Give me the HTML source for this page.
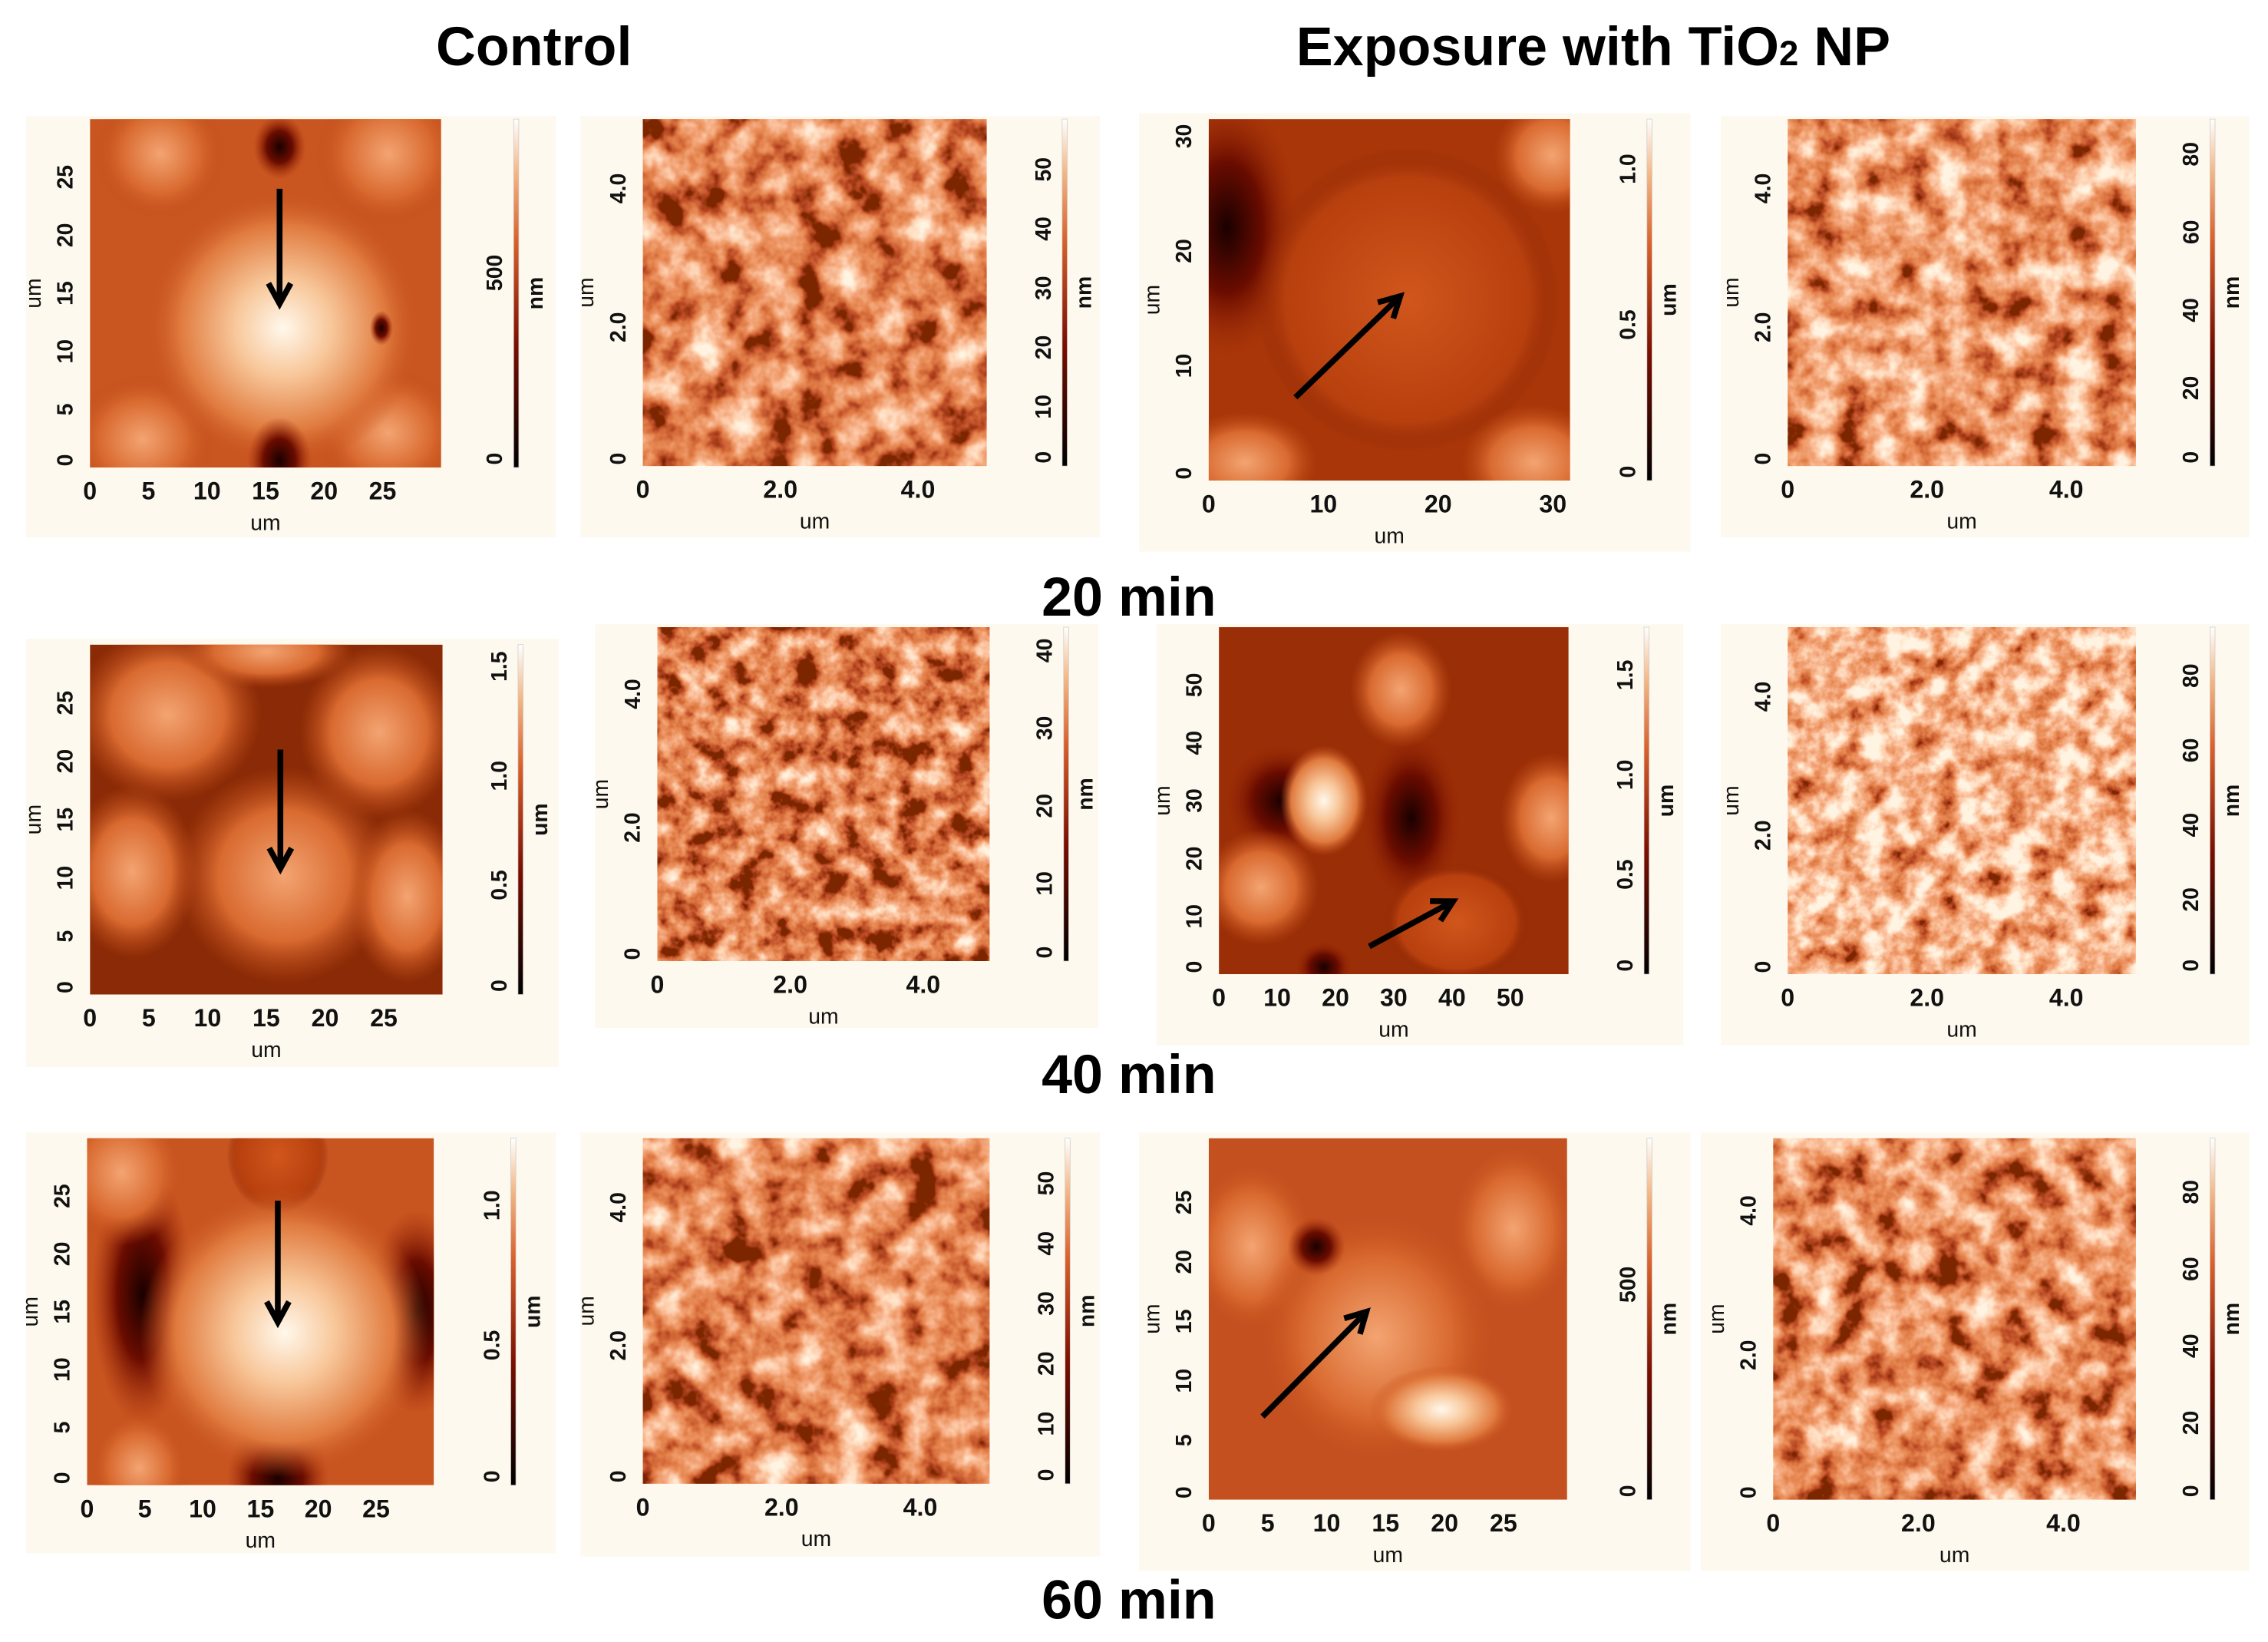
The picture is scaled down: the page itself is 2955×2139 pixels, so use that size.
<!DOCTYPE html>
<html><head><meta charset="utf-8">
<style>
html,body{margin:0;padding:0;background:#fff;}
svg{display:block;}
text{font-family:"Liberation Sans",sans-serif;font-weight:bold;fill:#111;}
.title{font-family:"Liberation Sans Narrow","Liberation Sans",sans-serif;font-size:38px;fill:#000;}
.tick{font-size:15px;}
.xtick{font-family:"Liberation Sans Narrow","Liberation Sans",sans-serif;font-size:17px;}
.lab{font-family:"Liberation Sans Narrow","Liberation Sans",sans-serif;font-size:15px;font-weight:normal;}
</style></head>
<body>
<svg id="fig" width="2955" height="2139" viewBox="0 0 1563 1131" preserveAspectRatio="none" xmlns="http://www.w3.org/2000/svg">
<defs>
<linearGradient id="cbgrad" x1="0" y1="1" x2="0" y2="0">
<stop offset="0" stop-color="#000"/><stop offset="0.35" stop-color="#7a0e00"/><stop offset="0.65" stop-color="#d8602a"/><stop offset="0.85" stop-color="#f4b888"/><stop offset="1" stop-color="#fff"/>
</linearGradient>
<radialGradient id="cellBright"><stop offset="0" stop-color="#fff8ec"/><stop offset="0.35" stop-color="#f8c79a"/><stop offset="0.75" stop-color="#e07a3e"/><stop offset="1" stop-color="#c8541e" stop-opacity="0"/></radialGradient>
<radialGradient id="cellMid"><stop offset="0" stop-color="#f3a472"/><stop offset="0.6" stop-color="#d96a30"/><stop offset="1" stop-color="#c04c18" stop-opacity="0"/></radialGradient>
<radialGradient id="cellDark"><stop offset="0" stop-color="#1a0000"/><stop offset="0.5" stop-color="#6a0c00"/><stop offset="1" stop-color="#a02c08" stop-opacity="0"/></radialGradient>
<radialGradient id="cellRed"><stop offset="0" stop-color="#d0561c"/><stop offset="0.8" stop-color="#b8400e"/><stop offset="1" stop-color="#8a2404" stop-opacity="0"/></radialGradient>
</defs>
<g id="bgs"></g>
<g id="panels"></g>
<text class="title" x="368" y="45" text-anchor="middle">Control</text>
<text class="title" x="1098" y="45" text-anchor="middle">Exposure with TiO<tspan font-size="24">2</tspan> NP</text>
<text class="title" x="778" y="424" text-anchor="middle">20 min</text>
<text class="title" x="778" y="753" text-anchor="middle">40 min</text>
<text class="title" x="778" y="1115" text-anchor="middle">60 min</text>
</svg>
<script>
// tick labels / ranges per panel (row-major: r1p1..r1p4, r2p1.., r3p1..)
const xTicks = [[0,5,10,15,20,25],[0,2.0,4.0],[0,10,20,30],[0,2.0,4.0],
                [0,5,10,15,20,25],[0,2.0,4.0],[0,10,20,30,40,50],[0,2.0,4.0],
                [0,5,10,15,20,25],[0,2.0,4.0],[0,5,10,15,20,25],[0,2.0,4.0]];
const axisMax = [30,5,31.5,5, 30,5,60,5, 30,5,30.4,5];
const cbTicks = [[0,500],[0,10,20,30,40,50],[0,0.5,1.0],[0,20,40,60,80],
                 [0,0.5,1.0,1.5],[0,10,20,30,40],[0,0.5,1.0,1.5],[0,20,40,60,80],
                 [0,0.5,1.0],[0,10,20,30,40,50],[0,500],[0,20,40,60,80]];
const cbMax = [895,58.5,1.16,89, 1.6,43,1.74,93, 1.24,57.5,840,94];
const cbUnit = ['nm','nm','um','nm','um','nm','um','nm','um','nm','nm','nm'];
const decimals = [0,1,0,1, 0,1,0,1, 0,1,0,1];
const cbDec = [0,0,1,0, 1,0,1,0, 1,0,0,0];

// layout geometry (pixels in 1563-wide space)
const geo = [
 {bg:[18,80,365,290], im:[62,82,242,240], cb:354},
 {bg:[400,80,358,290], im:[443,82,237,239], cb:732},
 {bg:[785,78,380,302], im:[833,82,249,249], cb:1135},
 {bg:[1186,80,364,290], im:[1232,82,240,239], cb:1523},
 {bg:[18,440,367,295], im:[62,444,243,241], cb:357},
 {bg:[410,430,347,278], im:[453,432,229,230], cb:733},
 {bg:[797,430,363,290], im:[840,432,241,239], cb:1133},
 {bg:[1186,430,364,290], im:[1232,432,240,239], cb:1523},
 {bg:[18,780,365,290], im:[60,784,239,239], cb:352},
 {bg:[400,780,358,292], im:[443,784,239,238], cb:734},
 {bg:[785,780,380,302], im:[833,784,247,249], cb:1135},
 {bg:[1172,780,378,302], im:[1222,784,250,249], cb:1523}];
const texBright = [0,-0.12,0,0.0, 0,-0.14,0,0.12, 0,-0.12,0,-0.07];
const texFreq = [0,0.04,0,0.045, 0,0.055,0,0.06, 0,0.04,0,0.045];

const NS='http://www.w3.org/2000/svg';
const svg=document.getElementById('fig');
const defs=svg.querySelector('defs');
const P=document.getElementById('panels');
const B=document.getElementById('bgs');
function mk(tag,attrs,parent){const e=document.createElementNS(NS,tag);for(const k in attrs)e.setAttribute(k,attrs[k]);parent.appendChild(e);return e;}
function fmt(v,d){return v===0?'0':v.toFixed(d);}

geo.forEach((g,i)=>{
  const [ix,iy,iw,ih]=g.im;
  const bg=mk('rect',{x:g.bg[0],y:g.bg[1],width:g.bg[2],height:g.bg[3],fill:'#fdf9ee'},B);
  
  
  const grp=mk('g',{},P);
  
  
  const cp=mk('clipPath',{id:'clip'+i},defs);
  mk('rect',{x:ix,y:iy,width:iw,height:ih},cp);
  const img=mk('g',{'clip-path':'url(#clip'+i+')'},grp);
  
  
  if(i%2===1){
    const f=mk('filter',{id:'tex'+i,x:ix,y:iy,width:iw,height:ih,filterUnits:'userSpaceOnUse'},defs);
    mk('feTurbulence',{type:'fractalNoise',baseFrequency:texFreq[i],numOctaves:4,seed:i*7+3},f);
    const k=1.8, off=0.5-k*0.5+texBright[i];
    mk('feColorMatrix',{type:'matrix',values:`${k} 0 0 0 ${off}  ${k} 0 0 0 ${off}  ${k} 0 0 0 ${off}  0 0 0 0 1`},f);
    const ct=mk('feComponentTransfer',{},f);
    mk('feFuncR',{type:'table',tableValues:'0.2 0.5 0.7 0.82 0.9 0.97 1 1'},ct);
    mk('feFuncG',{type:'table',tableValues:'0.02 0.07 0.17 0.27 0.39 0.56 0.74 0.9'},ct);
    mk('feFuncB',{type:'table',tableValues:'0 0.02 0.05 0.1 0.2 0.36 0.55 0.76'},ct);
    mk('rect',{x:ix,y:iy,width:iw,height:ih,fill:'#000',filter:'url(#tex'+i+')'},img);
  } else {
    drawCells(i,img,ix,iy,iw,ih);
  }
  const xs=v=>ix+v/axisMax[i]*iw;
  const ys=v=>iy+ih-v/axisMax[i]*ih;
  xTicks[i].forEach(v=>{
    const t=mk('text',{x:xs(v),y:iy+ih+22,'text-anchor':'middle',class:'xtick'},grp);
    t.textContent=fmt(v,decimals[i]);
    
    
    const yy=ys(v)-(v===0?5:0), xx=ix-12;
    const ty=mk('text',{x:xx,y:yy,transform:`rotate(-90 ${xx} ${yy})`,'text-anchor':'middle',class:'tick'},grp);
    ty.textContent=fmt(v,decimals[i]);
    
    
  });
  const xl=mk('text',{x:ix+iw/2,y:iy+ih+43,'text-anchor':'middle',class:'lab'},grp);
  xl.textContent='um';
  
  
  const lx=ix-34, ly=iy+ih/2;
  const yl=mk('text',{x:lx,y:ly,transform:`rotate(-90 ${lx} ${ly})`,'text-anchor':'middle',class:'lab'},grp);
  yl.textContent='um';
  
  
  const cb=mk('rect',{x:g.cb,y:iy,width:3.5,height:ih,fill:'url(#cbgrad)',stroke:'#ccc','stroke-width':0.4},grp);
  
  
  const cs=v=>iy+ih-v/cbMax[i]*ih;
  cbTicks[i].forEach(v=>{
    const yy=cs(v)-(v===0?6:0), xx=g.cb-8;
    const t=mk('text',{x:xx,y:yy,transform:`rotate(-90 ${xx} ${yy})`,'text-anchor':'middle',class:'tick'},grp);
    t.textContent=fmt(v,cbDec[i]);
    
    
  });
  const ux=g.cb+20, uy=iy+ih/2;
  const u=mk('text',{x:ux,y:uy,transform:`rotate(-90 ${ux} ${uy})`,'text-anchor':'middle',class:'tick'},grp);
  u.textContent=cbUnit[i];
  
  
});

function E(p,cx,cy,rx,ry,fill){mk('ellipse',{cx:cx,cy:cy,rx:rx,ry:ry,fill:fill},p);}
function arrow(p,x1,y1,x2,y2){
  const a=mk('g',{},p);
  
  
  mk('line',{x1:x1,y1:y1,x2:x2,y2:y2,stroke:'#000','stroke-width':4},a);
  const ang=Math.atan2(y2-y1,x2-x1), L=16, w=0.5;
  mk('polyline',{points:`${x2-L*Math.cos(ang-w)},${y2-L*Math.sin(ang-w)} ${x2},${y2} ${x2-L*Math.cos(ang+w)},${y2-L*Math.sin(ang+w)}`,fill:'none',stroke:'#000','stroke-width':4},a);
}
function drawCells(i,p,x,y,w,h){
  const X=f=>x+f*w, Y=f=>y+f*h;
  if(i===0){
    mk('rect',{x:x,y:y,width:w,height:h,fill:'#c95520'},p);
    E(p,X(0.2),Y(0.1),45,45,'url(#cellMid)');E(p,X(0.85),Y(0.1),50,50,'url(#cellMid)');
    E(p,X(0.15),Y(0.92),50,45,'url(#cellMid)');E(p,X(0.85),Y(0.9),50,45,'url(#cellMid)');
    E(p,X(0.55),Y(0.6),95,95,'url(#cellBright)');
    E(p,X(0.54),Y(0.08),18,22,'url(#cellDark)');E(p,X(0.54),Y(0.98),22,30,'url(#cellDark)');
    E(p,X(0.83),Y(0.6),8,12,'url(#cellDark)');
    arrow(p,X(0.54),Y(0.2),X(0.54),Y(0.53));
  } else if(i===2){
    mk('rect',{x:x,y:y,width:w,height:h,fill:'#a83608'},p);
    E(p,X(0.05),Y(0.3),50,90,'url(#cellDark)');E(p,X(0.95),Y(0.1),40,40,'url(#cellMid)');
    E(p,X(0.9),Y(0.95),50,40,'url(#cellMid)');E(p,X(0.1),Y(0.95),50,35,'url(#cellMid)');
    E(p,X(0.55),Y(0.5),105,105,'url(#cellRed)');
    arrow(p,X(0.24),Y(0.77),X(0.53),Y(0.49));
  } else if(i===4){
    mk('rect',{x:x,y:y,width:w,height:h,fill:'#8a2a06'},p);
    E(p,X(0.22),Y(0.2),65,60,'url(#cellMid)');E(p,X(0.82),Y(0.25),55,60,'url(#cellMid)');
    E(p,X(0.12),Y(0.65),45,60,'url(#cellMid)');E(p,X(0.55),Y(0.66),75,75,'url(#cellMid)');
    E(p,X(0.9),Y(0.72),40,60,'url(#cellMid)');E(p,X(0.5),Y(0.02),60,25,'url(#cellMid)');
    arrow(p,X(0.54),Y(0.3),X(0.54),Y(0.64));
  } else if(i===6){
    mk('rect',{x:x,y:y,width:w,height:h,fill:'#9a2e06'},p);
    E(p,X(0.55),Y(0.55),35,60,'url(#cellDark)');E(p,X(0.18),Y(0.5),40,40,'url(#cellDark)');
    E(p,X(0.52),Y(0.18),35,40,'url(#cellMid)');E(p,X(0.95),Y(0.55),35,45,'url(#cellMid)');
    E(p,X(0.12),Y(0.75),40,40,'url(#cellMid)');E(p,X(0.68),Y(0.85),50,40,'url(#cellRed)');
    E(p,X(0.3),Y(0.5),30,38,'url(#cellBright)');E(p,X(0.3),Y(0.98),20,18,'url(#cellDark)');
    arrow(p,X(0.43),Y(0.92),X(0.67),Y(0.79));
  } else if(i===8){
    mk('rect',{x:x,y:y,width:w,height:h,fill:'#c85420'},p);
    E(p,X(0.16),Y(0.45),35,90,'url(#cellDark)');E(p,X(0.95),Y(0.5),35,70,'url(#cellDark)');
    E(p,X(0.55),Y(0.98),35,45,'url(#cellDark)');E(p,X(0.55),Y(0.05),35,40,'url(#cellRed)');
    E(p,X(0.57),Y(0.56),100,100,'url(#cellBright)');
    E(p,X(0.15),Y(0.95),35,40,'url(#cellMid)');E(p,X(0.1),Y(0.1),45,50,'url(#cellMid)');
    arrow(p,X(0.55),Y(0.18),X(0.55),Y(0.53));
  } else if(i===10){
    mk('rect',{x:x,y:y,width:w,height:h,fill:'#c45020'},p);
    E(p,X(0.12),Y(0.3),45,60,'url(#cellMid)');E(p,X(0.85),Y(0.25),45,60,'url(#cellMid)');
    E(p,X(0.47),Y(0.55),85,90,'url(#cellMid)');E(p,X(0.3),Y(0.3),20,20,'url(#cellDark)');
    E(p,X(0.65),Y(0.75),50,30,'url(#cellBright)');
    arrow(p,X(0.15),Y(0.77),X(0.44),Y(0.48));
  }
}
</script>
</body></html>
